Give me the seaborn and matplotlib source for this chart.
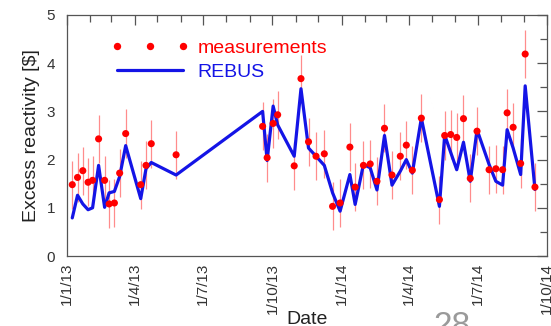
import matplotlib
matplotlib.use("Agg")
import matplotlib.pyplot as plt
import matplotlib.dates as mdates
from matplotlib.ticker import MultipleLocator
from matplotlib.lines import Line2D
import pandas as pd
import seaborn as sns

# ---------------- data ----------------
dates = [
    "2013-01-08", "2013-01-15", "2013-01-22", "2013-01-29", "2013-02-04", "2013-02-12",
    "2013-02-20", "2013-02-26", "2013-03-05", "2013-03-12", "2013-03-20", "2013-04-09",
    "2013-04-16", "2013-04-23", "2013-05-26", "2013-09-18", "2013-09-24", "2013-10-02",
    "2013-10-08", "2013-10-30", "2013-11-08", "2013-11-18", "2013-11-28", "2013-12-09",
    "2013-12-20", "2013-12-30", "2014-01-12", "2014-01-19", "2014-01-30", "2014-02-08",
    "2014-02-17", "2014-02-27", "2014-03-09", "2014-03-20", "2014-03-28", "2014-04-05",
    "2014-04-17", "2014-05-11", "2014-05-18", "2014-05-26", "2014-06-03", "2014-06-12",
    "2014-06-21", "2014-06-30", "2014-07-16", "2014-07-25", "2014-08-03", "2014-08-09",
    "2014-08-17", "2014-08-27", "2014-09-02", "2014-09-15",
]
measured = [
    1.48, 1.63, 1.77, 1.53, 1.57, 2.43, 1.57, 1.08, 1.10, 1.72, 2.54, 1.48, 1.88, 2.33, 2.10,
    2.69, 2.04, 2.75, 2.93, 1.87, 3.68, 2.37, 2.07, 2.12, 1.03, 1.10, 2.26, 1.43, 1.88, 1.91,
    1.55, 2.65, 1.68, 2.07, 2.30, 1.78, 2.86, 1.17, 2.50, 2.52, 2.46, 2.85, 1.61, 2.59, 1.79,
    1.81, 1.79, 2.97, 2.67, 1.92, 4.19, 1.43,
]
rebus = [
    0.79, 1.26, 1.08, 0.96, 1.00, 1.88, 1.01, 1.31, 1.34, 1.65, 2.29, 1.19, 1.81, 1.94, 1.68,
    3.00, 1.98, 3.11, 2.72, 2.07, 3.47, 2.24, 2.07, 1.88, 1.31, 0.93, 1.69, 1.07, 1.90, 1.83,
    1.37, 2.50, 1.47, 1.76, 2.00, 1.72, 2.86, 1.03, 2.51, 2.15, 1.79, 2.36, 1.55, 2.62, 1.90,
    1.55, 1.47, 2.62, 2.24, 1.69, 3.53, 1.38,
]
meas_err = 0.5
tick_dates = ["2013-01-01", "2013-04-01", "2013-07-01", "2013-10-01",
              "2014-01-01", "2014-04-01", "2014-07-01", "2014-10-01"]
tick_labels = ["1/1/13", "1/4/13", "1/7/13", "1/10/13",
               "1/1/14", "1/4/14", "1/7/14", "1/10/14"]
y_ticks = [0, 1, 2, 3, 4, 5]

# ---------------- style ----------------
sns.set_theme(style="white")
plt.rcParams["font.family"] = ["Liberation Sans", "DejaVu Sans"]

RED = "#ff0000"
BLUE = "#1414e6"
SPINE = "#555555"

df = pd.DataFrame({"date": pd.to_datetime(dates), "measured": measured, "rebus": rebus})

fig = plt.figure(figsize=(5.51, 3.26), dpi=100)
ax = fig.add_axes([67 / 551, 70 / 326, 480 / 551, 241 / 326])

ax.errorbar(df["date"], df["measured"], yerr=meas_err, fmt="none", ecolor=RED,
            alpha=0.45, elinewidth=0.9, capsize=0, zorder=1)
sns.lineplot(data=df, x="date", y="rebus", color=BLUE, lw=2.3, sort=False,
             ax=ax, zorder=2, legend=False)
sns.scatterplot(data=df, x="date", y="measured", color=RED, s=26, edgecolor="none",
                linewidth=0, ax=ax, zorder=3, legend=False)

ax.set_xlim(pd.Timestamp("2013-01-01"), pd.Timestamp("2014-10-01"))
ax.set_ylim(0, 5)
ax.set_xticks(pd.to_datetime(tick_dates))
ax.set_xticklabels(tick_labels, rotation=90)
ax.xaxis.set_minor_locator(mdates.MonthLocator())
ax.set_yticks(y_ticks)
ax.yaxis.set_minor_locator(MultipleLocator(0.5))

ax.tick_params(which="both", direction="in", top=True, right=True, color=SPINE, width=0.9)
ax.tick_params(which="major", length=7)
ax.tick_params(which="minor", length=5)
ax.tick_params(axis="y", which="major", labelsize=11, pad=8.5, labelcolor="#333333")
ax.tick_params(axis="x", which="major", labelsize=11, pad=5, labelcolor="#333333")
for s in ax.spines.values():
    s.set_color(SPINE)
    s.set_linewidth(0.9)

ax.set_xlabel("Date", fontsize=14, color="#222222")
ax.xaxis.set_label_coords(0.5, -0.228)
ax.set_ylabel("Excess reactivity [\\$]", fontsize=14, color="#222222")
ax.yaxis.set_label_coords(-0.056, 0.5)

h1 = Line2D([], [], ls="none", marker="o", color=RED, markersize=5.3, markeredgewidth=0)
h2 = Line2D([], [], color=BLUE, lw=2.3)
ax.legend([h1, h2], ["measurements", "REBUS"], loc="upper left",
          bbox_to_anchor=(0.092, 0.9), frameon=False, numpoints=3, handlelength=4.0,
          handletextpad=0.45, borderpad=0, borderaxespad=0, labelspacing=0.35,
          fontsize=14, labelcolor=[RED, BLUE])

fig.text(452 / 551, 1 - 311 / 326, "28", fontsize=24, color="#9a9a9a",
         ha="center", va="top")

fig.savefig("out.png", dpi=100)
